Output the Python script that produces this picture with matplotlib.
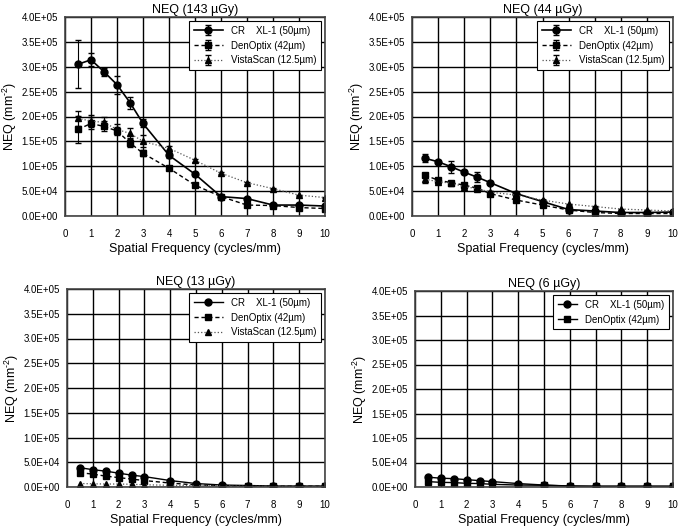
import matplotlib
matplotlib.use("Agg")
import matplotlib.pyplot as plt
import numpy as np

plt.rcParams['font.family'] = ['Liberation Sans', 'DejaVu Sans']
plt.rcParams['mathtext.fontset'] = 'custom'
plt.rcParams['mathtext.rm'] = 'Liberation Sans'
plt.rcParams['mathtext.it'] = 'Liberation Sans:italic'
plt.rcParams['mathtext.bf'] = 'Liberation Sans:bold'

freq = [0.5, 1, 1.5, 2, 2.5, 3, 4, 5, 6, 7, 8, 9, 10]

# 143 uGy
cr_143 = [3.05e5, 3.14e5, 2.90e5, 2.64e5, 2.28e5, 1.86e5, 1.22e5, 0.84e5, 0.39e5, 0.35e5, 0.22e5, 0.22e5, 0.20e5]
cr_143_err = [0.48e5, 0.13e5, 0.08e5, 0.18e5, 0.12e5, 0.08e5, 0.06e5, 0.03e5, 0.02e5, 0.02e5, 0.01e5, 0.01e5, 0.01e5]
den_143 = [1.74e5, 1.86e5, 1.80e5, 1.71e5, 1.47e5, 1.26e5, 0.96e5, 0.62e5, 0.39e5, 0.22e5, 0.21e5, 0.17e5, 0.15e5]
den_143_err = [0.27e5, 0.12e5, 0.10e5, 0.08e5, 0.08e5, 0.06e5, 0.03e5, 0.02e5, 0.02e5, 0.01e5, 0.01e5, 0.01e5, 0.01e5]
vis_143 = [1.96e5, 1.91e5, 1.88e5, 1.74e5, 1.66e5, 1.50e5, 1.36e5, 1.12e5, 0.86e5, 0.67e5, 0.55e5, 0.42e5, 0.37e5]
vis_143_err = [0.16e5, 0.13e5, 0.10e5, 0.10e5, 0.10e5, 0.12e5, 0.05e5, 0.03e5, 0.02e5, 0.02e5, 0.01e5, 0.01e5, 0.01e5]

# 44 uGy
cr_44 = [1.16e5, 1.09e5, 0.99e5, 0.88e5, 0.78e5, 0.67e5, 0.45e5, 0.29e5, 0.13e5, 0.10e5, 0.07e5, 0.07e5, 0.08e5]
cr_44_err = [0.08e5, 0.03e5, 0.12e5, 0.04e5, 0.10e5, 0.03e5, 0.02e5, 0.02e5, 0.01e5, 0.01e5, 0.01e5, 0.01e5, 0.01e5]
den_44 = [0.82e5, 0.72e5, 0.67e5, 0.62e5, 0.56e5, 0.45e5, 0.32e5, 0.22e5, 0.12e5, 0.07e5, 0.05e5, 0.05e5, 0.05e5]
den_44_err = [0.04e5, 0.03e5, 0.02e5, 0.02e5, 0.02e5, 0.02e5, 0.01e5, 0.01e5, 0.01e5, 0.01e5, 0.01e5, 0.01e5, 0.01e5]
vis_44 = [0.74e5, 0.69e5, 0.66e5, 0.59e5, 0.55e5, 0.48e5, 0.42e5, 0.32e5, 0.24e5, 0.19e5, 0.14e5, 0.12e5, 0.10e5]
vis_44_err = [0.08e5, 0.04e5, 0.03e5, 0.03e5, 0.02e5, 0.02e5, 0.01e5, 0.01e5, 0.01e5, 0.01e5, 0.01e5, 0.01e5, 0.01e5]

# 13 uGy
cr_13 = [0.39e5, 0.35e5, 0.32e5, 0.28e5, 0.24e5, 0.21e5, 0.13e5, 0.07e5, 0.04e5, 0.03e5, 0.02e5, 0.02e5, 0.02e5]
den_13 = [0.29e5, 0.26e5, 0.22e5, 0.19e5, 0.16e5, 0.13e5, 0.08e5, 0.04e5, 0.03e5, 0.02e5, 0.015e5, 0.015e5, 0.015e5]
vis_13 = [0.07e5, 0.065e5, 0.06e5, 0.06e5, 0.055e5, 0.045e5, 0.035e5, 0.03e5, 0.02e5, 0.015e5, 0.01e5, 0.01e5, 0.01e5]

# 6 uGy
cr_6 = [0.20e5, 0.18e5, 0.17e5, 0.15e5, 0.13e5, 0.11e5, 0.07e5, 0.04e5, 0.02e5, 0.015e5, 0.015e5, 0.015e5, 0.015e5]
den_6 = [0.11e5, 0.095e5, 0.09e5, 0.075e5, 0.07e5, 0.055e5, 0.04e5, 0.035e5, 0.02e5, 0.015e5, 0.015e5, 0.015e5, 0.015e5]

titles = ["NEQ (143 µGy)", "NEQ (44 µGy)", "NEQ (13 µGy)", "NEQ (6 µGy)"]
lab_cr = "CR    XL-1 (50µm)"
lab_den = "DenOptix (42µm)"
lab_vis = "VistaScan (12.5µm)"
ylab = r"NEQ (mm$^{\text{-2}}$)"
xlab = "Spatial Frequency (cycles/mm)"

yticks = np.arange(0, 4.01e5, 0.5e5)
xticks = [0, 1, 2, 3, 4, 5, 6, 7, 8, 9, 10]

fig = plt.figure(figsize=(6.81, 5.28), dpi=100)
W, H = 681, 528
rects = [(65, 17, 325, 216), (412, 17, 673, 216), (67, 289, 325, 487), (415, 291, 673, 487)]
axes = []
for (l, t, r, b) in rects:
    axes.append(fig.add_axes([l / W, 1 - b / H, (r - l) / W, (b - t) / H]))

def style(ax, title):
    ax.set_xlim(0, 10)
    ax.set_ylim(0, 4e5)
    ax.set_xticks(xticks)
    ax.set_yticks(yticks)
    ax.set_yticklabels([("%.1E" % v) for v in yticks], fontsize=7)
    ax.set_xticklabels([str(v) for v in xticks], fontsize=7)
    ax.grid(True, color='black', linewidth=1.0)
    ax.set_axisbelow(True)
    ax.tick_params(axis='y', length=0, pad=5)
    ax.tick_params(axis='x', length=0, pad=9)
    for s in ax.spines.values():
        s.set_color('#444444')
        s.set_linewidth(1.2)
    ax.set_title(title, fontsize=9, pad=3)
    ax.set_xlabel(xlab, fontsize=9, labelpad=3)
    ax.set_ylabel(ylab, fontsize=9, labelpad=2)

def plot_series(ax, y, err, marker, ls, lw, color, label):
    ax.errorbar(freq, y, yerr=err, marker=marker, linestyle=ls, linewidth=lw, color=color,
                markersize=5, markerfacecolor='black', markeredgecolor='black',
                ecolor='black', elinewidth=0.8, capsize=2.5, label=label)

def leg(ax, hl=3):
    lg = ax.legend(loc='upper right', fontsize=7, frameon=True, fancybox=False,
                   edgecolor='black', framealpha=1, borderaxespad=0.4,
                   handlelength=hl, labelspacing=0.5, borderpad=0.5)
    lg.get_frame().set_linewidth(0.8)

ax = axes[0]
style(ax, titles[0])
plot_series(ax, cr_143, cr_143_err, 'o', '-', 1.2, 'black', lab_cr)
plot_series(ax, den_143, den_143_err, 's', (0, (3, 2)), 1.0, 'black', lab_den)
plot_series(ax, vis_143, vis_143_err, '^', ':', 0.9, '#555555', lab_vis)
leg(ax)

ax = axes[1]
style(ax, titles[1])
plot_series(ax, cr_44, cr_44_err, 'o', '-', 1.2, 'black', lab_cr)
plot_series(ax, den_44, den_44_err, 's', (0, (3, 2)), 1.0, 'black', lab_den)
plot_series(ax, vis_44, vis_44_err, '^', ':', 0.9, '#555555', lab_vis)
leg(ax)

ax = axes[2]
style(ax, titles[2])
plot_series(ax, cr_13, None, 'o', '-', 1.0, 'black', lab_cr)
plot_series(ax, den_13, None, 's', (0, (3, 2)), 1.0, 'black', lab_den)
plot_series(ax, vis_13, None, '^', ':', 0.9, '#555555', lab_vis)
leg(ax)

ax = axes[3]
style(ax, titles[3])
plot_series(ax, cr_6, None, 'o', '-', 1.0, 'black', lab_cr)
plot_series(ax, den_6, None, 's', '-', 1.0, 'black', lab_den)
leg(ax, hl=2)

fig.savefig("out.png", dpi=100)
